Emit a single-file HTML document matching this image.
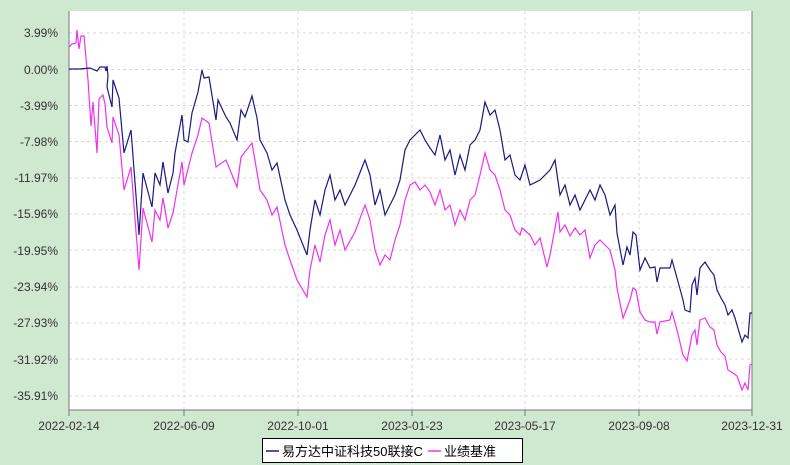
<!DOCTYPE html>
<html><head><meta charset="utf-8"><style>
body{margin:0;background:#cfe8d0;}
svg{display:block;font-family:"Liberation Sans","Noto Sans CJK SC",sans-serif;}
</style></head><body>
<svg width="790" height="465" viewBox="0 0 790 465">
<rect x="0" y="0" width="790" height="465" fill="#cfe8d0"/>
<rect x="69" y="11" width="683" height="399" fill="#fff"/>
<g stroke="#d8d8d8" stroke-dasharray="3,3" stroke-width="1">
<line x1="69" x2="752" y1="33" y2="33"/><line x1="69" x2="752" y1="69.5" y2="69.5"/><line x1="69" x2="752" y1="105.5" y2="105.5"/><line x1="69" x2="752" y1="141.5" y2="141.5"/><line x1="69" x2="752" y1="178" y2="178"/><line x1="69" x2="752" y1="214" y2="214"/><line x1="69" x2="752" y1="250" y2="250"/><line x1="69" x2="752" y1="287" y2="287"/><line x1="69" x2="752" y1="323" y2="323"/><line x1="69" x2="752" y1="359" y2="359"/><line x1="69" x2="752" y1="396" y2="396"/>
<line y1="11" y2="410" x1="184" x2="184"/><line y1="11" y2="410" x1="298" x2="298"/><line y1="11" y2="410" x1="412" x2="412"/><line y1="11" y2="410" x1="525" x2="525"/><line y1="11" y2="410" x1="639" x2="639"/>
</g>
<path d="M69,11V410H752V11" fill="none" stroke="#777" stroke-width="1"/>
<g stroke="#777"><line x1="69" x2="69" y1="410" y2="416"/><line x1="184" x2="184" y1="410" y2="416"/><line x1="298" x2="298" y1="410" y2="416"/><line x1="412" x2="412" y1="410" y2="416"/><line x1="525" x2="525" y1="410" y2="416"/><line x1="639" x2="639" y1="410" y2="416"/><line x1="752" x2="752" y1="410" y2="416"/></g>
<polyline fill="none" stroke="#ee33ee" stroke-width="1.2" points="69,47 72,44 76,43 77,30 79,49 81,36 84,36 88,80 91,126 93,102 97,153 99,99 103,95 105,104 107,127 112,143 113,117 119,135 124,190 131,167 139,270 143,208 152,242 155,210 160,220 163,198 168,228 173,213 182,162 184,185 192,153 198,135 202,118 209,123 216,167 226,160 237,187 241,157 252,143 260,190 267,200 272,215 277,207 285,245 290,260 297,280 307,297 310,270 315,245 320,262 325,235 330,220 335,245 340,230 345,250 355,232 365,205 370,220 375,250 380,265 385,255 390,260 395,240 400,225 405,200 410,185 415,182 420,190 425,185 430,192 435,205 440,190 445,210 450,205 455,225 460,210 465,220 470,200 475,195 480,175 485,153 490,170 495,175 500,190 505,210 510,215 515,230 520,235 522,228 530,235 535,245 540,238 547,267 550,255 558,212 560,232 565,225 570,236 575,228 580,235 585,230 590,258 595,245 600,240 605,245 610,250 615,270 617,288 623,318 627,308 630,300 633,288 636,290 640,312 645,320 650,322 655,322 657,334 660,322 670,320 672,312 677,330 683,355 687,361 692,335 695,330 697,345 700,320 705,318 710,327 714,330 717,345 721,352 725,356 728,370 733,373 737,376 742,390 745,383 748,390 750,365 752,364"/>
<polyline fill="none" stroke="#1a1a80" stroke-width="1.2" points="69,69 80,69 90,68 97,71 100,67 105,67 106,71 107,66 108,76 107,87 112,107 113,80 119,98 124,153 131,130 139,235 143,173 152,207 155,173 160,185 163,162 168,193 173,173 175,153 182,115 184,140 188,142 192,113 198,92 202,70 204,78 209,77 216,120 218,100 226,117 230,123 237,140 241,110 245,117 252,96 257,118 260,140 267,153 272,170 277,163 285,200 290,215 297,230 307,255 310,230 315,200 320,215 325,190 330,175 335,200 340,190 345,205 355,185 365,160 370,175 375,205 380,190 385,215 390,205 395,195 400,180 405,150 410,140 415,135 420,130 425,140 430,148 435,155 440,135 445,160 450,150 455,175 460,155 465,170 470,145 475,140 480,130 485,102 490,115 495,110 500,130 505,160 510,155 515,175 520,180 525,165 530,185 540,180 550,170 555,160 560,195 565,185 570,205 575,195 580,210 590,190 595,200 600,185 605,195 610,215 615,205 617,233 623,265 627,247 630,255 633,232 636,235 640,270 645,258 650,268 655,267 657,282 660,268 670,268 672,260 677,278 683,300 685,310 690,312 692,285 695,278 697,295 700,268 705,262 710,270 714,275 717,290 721,298 725,305 728,315 732,310 735,318 737,325 742,342 745,335 748,338 750,313 752,313"/>
<g fill="#333" font-size="12" text-anchor="end">
<text x="58" y="37">3.99%</text><text x="58" y="74">0.00%</text><text x="58" y="110">-3.99%</text><text x="58" y="146">-7.98%</text><text x="58" y="182">-11.97%</text><text x="58" y="218">-15.96%</text><text x="58" y="255">-19.95%</text><text x="58" y="291">-23.94%</text><text x="58" y="327">-27.93%</text><text x="58" y="364">-31.92%</text><text x="58" y="400">-35.91%</text>
</g>
<g fill="#333" font-size="12" text-anchor="middle">
<text x="69" y="430">2022-02-14</text><text x="184" y="430">2022-06-09</text><text x="298" y="430">2022-10-01</text><text x="412" y="430">2023-01-23</text><text x="525" y="430">2023-05-17</text><text x="639" y="430">2023-09-08</text><text x="752" y="430">2023-12-31</text>
</g>
<rect x="262.5" y="438.5" width="260" height="24" fill="#fff" stroke="#000"/>
<line x1="266" x2="279" y1="451" y2="451" stroke="#1a1a80" stroke-width="1.5"/>
<text x="282" y="456" font-size="13" fill="#000">易方达中证科技50联接C</text>
<line x1="428" x2="441" y1="451" y2="451" stroke="#ee33ee" stroke-width="1.5"/>
<text x="444" y="456" font-size="13" fill="#000">业绩基准</text>
</svg>
</body></html>
